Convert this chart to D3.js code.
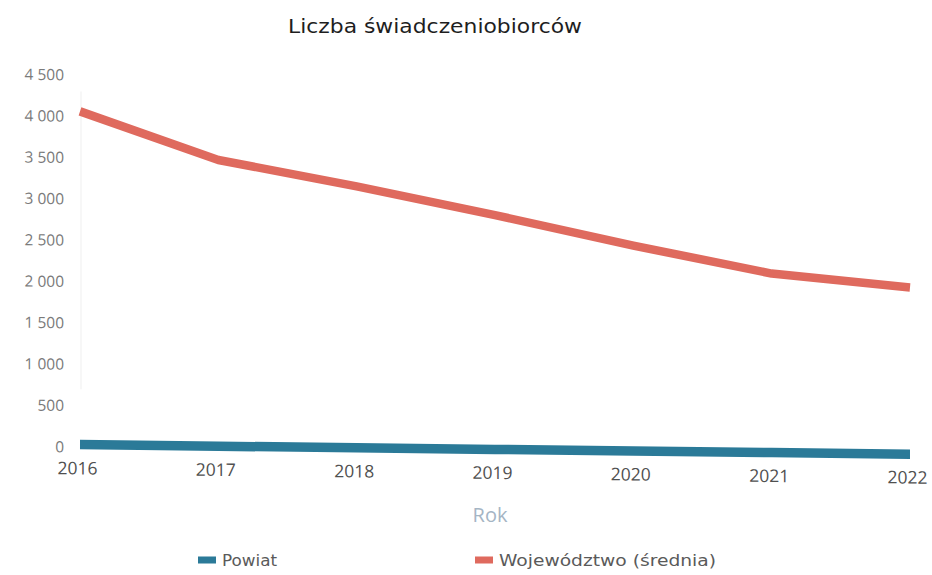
<!DOCTYPE html>
<html>
<head>
<meta charset="utf-8">
<script src="https://cdn.jsdelivr.net/npm/d3@7"></script>
<style>
  html, body { margin: 0; padding: 0; background: #fff; }
  svg { display: block; }
</style>
</head>
<body>
<svg id="chart" width="932" height="575"></svg>
<script>
// ---- data ----
const years = ["2016", "2017", "2018", "2019", "2020", "2021", "2022"];
const powiat = [30, 28, 27, 26, 25, 24, 22];
const wojewodztwo = [4060, 3490, 3190, 2860, 2510, 2190, 2040];
const yTicks = [0, 500, 1000, 1500, 2000, 2500, 3000, 3500, 4000, 4500];
const seriesNames = ["Powiat", "Województwo (średnia)"];
const seriesColors = ["#2b7a98", "#df6a5e"];
const titleText = "Liczba świadczeniobiorców";
const xAxisTitle = "Rok";

// ---- layout ----
const svg = d3.select("#chart");
const fontFam = "'Open Sans', 'Noto Sans', 'DejaVu Sans', sans-serif";
const wideFam = "'DejaVu Sans', 'Open Sans', sans-serif";

const x = d3.scalePoint().domain(years).range([80, 910]);
const y = d3.scaleLinear().domain([0, 4500]).range([447, 75]);

// title
svg.append("text")
  .attr("x", 435).attr("y", 33)
  .attr("text-anchor", "middle")
  .attr("font-family", wideFam)
  .attr("font-size", 19)
  .attr("fill", "#1e1e1e")
  .attr("textLength", 294)
  .attr("lengthAdjust", "spacingAndGlyphs")
  .text(titleText);

// plot group with slight scan skew
const g = svg.append("g")
  .attr("transform", "translate(80,0) skewY(0.63) translate(-80,0)");

// faint y axis line
g.append("line")
  .attr("x1", 81).attr("x2", 81)
  .attr("y1", y(4300)).attr("y2", y(700))
  .attr("stroke", "#efefef").attr("stroke-width", 1);

// y axis tick labels
const yAxis = d3.axisLeft(y)
  .tickValues(yTicks)
  .tickSize(0)
  .tickPadding(0)
  .tickFormat(d => d3.format(",")(d).replace(/,/g, " "));
const yg = g.append("g").attr("transform", "translate(64,0)").call(yAxis);
yg.select(".domain").remove();
yg.selectAll("text")
  .attr("font-family", fontFam)
  .attr("font-size", 15.5)
  .attr("fill", "#7a7a7a");

// x axis tick labels
const xAxis = d3.axisBottom(x).tickSize(0).tickPadding(0);
const xg = g.append("g").attr("transform", "translate(-3,462)").call(xAxis);
xg.select(".domain").remove();
xg.selectAll("text")
  .attr("font-family", fontFam)
  .attr("font-size", 17.5)
  .attr("fill", "#505050");

// x axis title
svg.append("text")
  .attr("x", 490).attr("y", 515)
  .attr("dy", "0.35em")
  .attr("text-anchor", "middle")
  .attr("font-family", fontFam)
  .attr("font-size", 20)
  .attr("fill", "#a5b5c4")
  .text(xAxisTitle);

// lines
const line = d3.line().x((d, i) => x(years[i])).y(d => y(d));
[wojewodztwo, powiat].forEach((vals, k) => {
  const idx = k === 0 ? 1 : 0;
  g.append("path")
    .datum(vals)
    .attr("fill", "none")
    .attr("stroke", seriesColors[idx])
    .attr("stroke-width", idx === 0 ? 9.5 : 8.5)
    .attr("stroke-linejoin", "round")
    .attr("d", line);
});

// legend
const legendPos = [[198, 560], [475, 560]];
const legendWidths = [55, 217];
seriesNames.forEach((name, i) => {
  const lg = svg.append("g").attr("transform", `translate(${legendPos[i][0]},${legendPos[i][1]})`);
  lg.append("rect")
    .attr("x", 0).attr("y", -3.5)
    .attr("width", 18).attr("height", 7)
    .attr("fill", seriesColors[i]);
  lg.append("text")
    .attr("x", 24).attr("y", 0)
    .attr("dy", "0.35em")
    .attr("font-family", wideFam)
    .attr("font-size", 16)
    .attr("fill", "#5a5a5a")
    .attr("textLength", legendWidths[i])
    .attr("lengthAdjust", "spacingAndGlyphs")
    .text(name);
});
</script>
</body>
</html>
